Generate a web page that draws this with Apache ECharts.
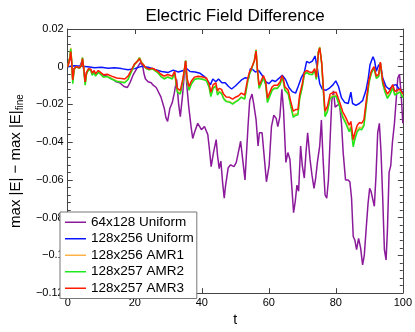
<!DOCTYPE html>
<html>
<head>
<meta charset="utf-8">
<script src="https://cdn.jsdelivr.net/npm/echarts@6/dist/echarts.min.js"></script>
<style>
  html, body { margin: 0; padding: 0; background: #fff; }
  #chart { width: 415px; height: 332px; }
</style>
</head>
<body>
<div id="chart"></div>
<script>
// series names, in legend order
var names = ['64x128 Uniform', '128x256 Uniform', '128x256 AMR1', '128x257 AMR2', '128x257 AMR3'];
var colors = ['#8b1a9b', '#0a14ff', '#ffb347', '#1ee81e', '#ff1a00'];

// 64x128 Uniform  [t, value]
var uni64 = [
  [0,0],[0.6,0.004],[0.9,0.008],[1.2,0.002],[1.5,-0.007],[1.9,-0.001],[2.5,0],[3.5,-0.0005],[4.4,0.004],[5.2,-0.008],
  [5.6,-0.003],[6.5,-0.0012],[7.5,-0.0035],[8.5,-0.004],[9.5,-0.003],[10.5,-0.005],[11.5,-0.0045],[12.5,-0.006],[13.3,-0.0065],[14.5,-0.008],
  [15.5,-0.0085],[16.8,-0.0105],[17.8,-0.011],[18.7,-0.008],[19.6,-0.004],[20.6,-0.001],[21.6,0.002],[22.3,0.001],[22.8,-0.004],[23.2,-0.0065],
  [24,-0.008],[24.9,-0.0085],[25.5,-0.0098],[26.4,-0.011],[26.8,-0.0115],[27.8,-0.016],[28.8,-0.022],[29.3,-0.027],[29.8,-0.029],[30.5,-0.022],
  [31.2,-0.019],[31.8,-0.014],[32.5,-0.0067],[33.1,-0.02],[33.6,-0.0265],[34.3,-0.0145],[35.1,0.003],[35.5,-0.009],[36.1,-0.021],[36.8,-0.0317],
  [37.3,-0.038],[37.8,-0.035],[38.8,-0.030],[39.9,-0.0334],[40.8,-0.0317],[41.8,-0.036],[42.3,-0.044],[42.8,-0.053],[43.5,-0.0455],[44.3,-0.0386],
  [44.7,-0.047],[45.2,-0.054],[45.7,-0.05],[46.2,-0.061],[46.7,-0.0697],[47.1,-0.063],[47.9,-0.0535],[48.6,-0.052],[49.6,-0.053],[50.3,-0.0507],
  [50.9,-0.0455],[51.6,-0.0395],[52.2,-0.049],[52.9,-0.060],[53.8,-0.0317],[54.3,-0.018],[55,-0.0145],[55.5,-0.0197],[56.2,-0.028],[56.8,-0.042],
  [57.2,-0.035],[58,-0.035],[58.7,-0.049],[59.3,-0.061],[60.1,-0.0524],[60.8,-0.0317],[61.5,-0.0257],[62.2,-0.0274],[62.7,-0.0317],[63.3,-0.0265],
  [63.9,-0.012],[64.4,-0.023],[65.1,-0.0507],[65.7,-0.0455],[66.3,-0.049],[66.9,-0.0645],[67.4,-0.0774],[67.9,-0.0714],[68.4,-0.0628],[68.9,-0.066],
  [69.5,-0.042],[70,-0.0524],[70.6,-0.059],[71.1,-0.0455],[71.6,-0.035],[72.3,-0.049],[72.9,-0.0576],[73.5,-0.0645],[74,-0.059],[74.5,-0.0507],
  [75.2,-0.042],[75.7,-0.0283],[76.2,-0.049],[76.8,-0.068],[77.3,-0.0697],[77.8,-0.06],[78.3,-0.0386],[78.8,-0.018],[79.3,-0.0128],[79.8,-0.0214],
  [80.4,-0.0205],[81.1,-0.0197],[81.7,-0.030],[82.2,-0.0455],[82.9,-0.060],[83.6,-0.060],[84.2,-0.061],[84.7,-0.0697],[85.2,-0.090],[85.7,-0.092],
  [86.2,-0.097],[86.8,-0.091],[87.4,-0.096],[88,-0.105],[88.5,-0.100],[89.1,-0.085],[89.6,-0.073],[90.1,-0.0645],[90.5,-0.066],[91,-0.065],
  [91.5,-0.074],[92,-0.0576],[92.5,-0.035],[93,-0.030],[93.5,-0.0455],[94,-0.0697],[94.5,-0.097],[95,-0.1024],[95.4,-0.087],[95.9,-0.056],
  [96.4,-0.0524],[96.9,-0.040],[97.5,-0.030],[98,-0.018],[98.5,-0.006],[99,-0.004],[99.5,-0.0145],[100,-0.030]
];

// 128x256 Uniform  [t, value]
var uni128 = [
  [0,0],[2,0.0005],[4,0.0003],[6,0],[8,-0.0005],[10,-0.0003],[12,-0.0008],[14,-0.0006],[16,-0.001],[18,-0.0016],
  [20,-0.001],[22,0.0002],[24,-0.0003],[26,-0.0015],[28,-0.0025],[30,-0.003],[31.5,-0.0018],[33,-0.0028],[34.5,-0.002],[35.4,-0.0008],
  [36.5,-0.0025],[38,-0.0028],[39.5,-0.0035],[41,-0.0055],[42,-0.008],[42.6,-0.0095],[43.3,-0.0065],[44.2,-0.008],[45,-0.0065],[46,-0.0085],
  [47,-0.0085],[48,-0.0105],[48.9,-0.0118],[50,-0.0102],[51,-0.0085],[52,-0.0068],[53,-0.0058],[54,-0.0062],[54.5,-0.001],[55.2,-0.0015],
  [56,-0.0028],[57,-0.002],[58,-0.0045],[59,-0.0078],[60,-0.009],[61,-0.0072],[62,-0.0078],[63,-0.0062],[64,-0.0045],[65,-0.0068],
  [66,-0.011],[67,-0.0132],[68,-0.014],[68.7,-0.0108],[69.7,-0.0058],[70.6,-0.003],[71.3,0.0028],[72.1,0.002],[73,0.003],[73.8,0.0057],
  [74.5,-0.001],[75.2,-0.009],[76,-0.012],[77,-0.0125],[78,-0.0115],[79.2,-0.0095],[80,-0.0075],[80.8,-0.0105],[81.7,-0.0165],[82.7,-0.019],
  [83.7,-0.0195],[84.5,-0.0135],[85,-0.0195],[86,-0.0205],[87,-0.0195],[88,-0.018],[89,-0.0125],[89.7,-0.006],[90.2,0.001],[91.1,0.0053],
  [91.6,0.003],[92.1,-0.0024],[92.7,0.0005],[93.3,0.0019],[94,-0.006],[95,-0.0105],[96,-0.012],[97,-0.010],[98,-0.0095],[99,-0.012],
  [100,-0.0135]
];

// AMR runs share one time axis
var tAmr = [
  0, 0.6, 0.9, 1.2, 1.5, 1.9, 2.5, 3.5, 4.1, 4.4,
  4.8, 5.2, 5.6, 6.2, 6.9, 7.3, 7.9, 8.3, 9.1, 9.8,
  10.7, 11.8, 13.1, 14.6, 16, 17, 18, 18.9, 19.9, 20.9,
  21.4, 22, 22.6, 23.3, 24.3, 25.3, 26.9, 27.8, 28.8, 29.8,
  31.2, 31.9, 32.7, 33.6, 34.4, 35.2, 35.6, 36.2, 36.9, 37.8,
  38.9, 40.4, 41.4, 42.2, 42.7, 43.4, 44.2, 44.7, 45.2, 45.9,
  46.5, 47.3, 48.3, 49.2, 50, 50.9, 51.8, 52.8, 53.7, 54.2,
  54.7, 55.2, 55.7, 56.2, 56.6, 57.1, 57.6, 58.4, 59.1, 59.6,
  60.2, 61, 61.7, 62.6, 63.4, 63.9, 64.3, 64.8, 65.8, 66.5,
  67.3, 68, 68.7, 69.2, 70, 70.6, 71.3, 72.1, 73, 73.7,
  74.2, 74.8, 75.2, 75.8, 76.3, 76.8, 77.5, 78.3, 79.2, 80.1,
  81.1, 82.1, 83, 84, 84.5, 85.2, 85.7, 86.4, 87.1, 87.7,
  88.4, 89.2, 89.9, 90.6, 91.4, 92.1, 92.8, 93.3, 94, 94.7,
  95.4, 96.2, 97, 97.6, 98.4, 99.2, 100
];

var amr1 = [
  0, 0.005, 0.010, 0.003, -0.0085, -0.0015, 0, -0.0008, 0.0008, 0.005,
  -0.0015, -0.0095, -0.004, -0.0015, -0.002, -0.004, -0.0025, -0.0045, -0.003, -0.004,
  -0.0055, -0.005, -0.0062, -0.0075, -0.008, -0.0082, -0.0065, -0.003, 0.0012, 0.0035,
  0.005, 0.0025, 0.001, -0.0008, -0.0015, -0.0012, -0.003, -0.005, -0.0062, -0.0052,
  -0.0062, -0.003, -0.013, -0.014, -0.007, 0.0035, -0.007, -0.012, -0.009, -0.0065,
  -0.006, -0.0065, -0.007, -0.0105, -0.0152, -0.011, -0.0098, -0.0145, -0.013, -0.0138,
  -0.0165, -0.0182, -0.0185, -0.0195, -0.0185, -0.0175, -0.016, -0.017, -0.0078, -0.004,
  -0.002, -0.0028, 0.0035, 0.0092, -0.0015, -0.0112, -0.0092, -0.0058, -0.0095, -0.0185,
  -0.0158, -0.0122, -0.0112, -0.0112, -0.0092, -0.0058, -0.0072, -0.0122, -0.014, -0.02,
  -0.026, -0.025, -0.0248, -0.0168, -0.0105, -0.004, -0.003, -0.0038, -0.004, -0.0018,
  -0.0065, 0.008, 0.0105, 0.0015, -0.013, -0.026, -0.0232, -0.0162, -0.0152, -0.015,
  -0.0205, -0.0262, -0.0295, -0.0335, -0.0315, -0.041, -0.0375, -0.0335, -0.032, -0.0325,
  -0.0305, -0.0185, -0.0082, -0.0032, -0.0005, -0.006, -0.005, 0.002, -0.0088, -0.013,
  -0.0162, -0.014, -0.0108, -0.0145, -0.0138, -0.013, -0.016
];

var amr2 = [
  0, 0.0045, 0.0095, 0.0025, -0.009, -0.0015, 0, -0.0008, 0.0008, 0.0048,
  -0.0015, -0.0098, -0.004, -0.0015, -0.002, -0.0045, -0.003, -0.005, -0.003, -0.004,
  -0.0055, -0.0052, -0.0065, -0.0078, -0.0082, -0.0085, -0.0068, -0.003, 0.001, 0.0032,
  0.0047, 0.0022, 0.001, -0.0008, -0.0016, -0.0012, -0.0032, -0.0052, -0.0065, -0.0055,
  -0.0065, -0.0032, -0.0135, -0.0145, -0.0072, 0.0033, -0.0072, -0.0125, -0.0092, -0.0068,
  -0.0062, -0.0068, -0.0075, -0.011, -0.0158, -0.0115, -0.0102, -0.015, -0.0135, -0.0142,
  -0.017, -0.0185, -0.0188, -0.0198, -0.0188, -0.0178, -0.0162, -0.0172, -0.008, -0.0042,
  -0.002, -0.003, 0.0032, 0.0088, -0.0015, -0.0115, -0.0095, -0.006, -0.0098, -0.019,
  -0.0162, -0.0125, -0.0115, -0.0115, -0.0095, -0.006, -0.0075, -0.0125, -0.0145, -0.0205,
  -0.0268, -0.0258, -0.0255, -0.0172, -0.0108, -0.0042, -0.003, -0.004, -0.0042, -0.002,
  -0.0068, 0.0078, 0.0102, 0.0015, -0.0135, -0.0265, -0.0238, -0.0168, -0.0158, -0.0156,
  -0.021, -0.027, -0.0302, -0.0345, -0.0322, -0.0425, -0.0385, -0.0345, -0.033, -0.0335,
  -0.0312, -0.019, -0.0085, -0.0035, -0.0008, -0.0062, -0.0052, 0.0018, -0.009, -0.0135,
  -0.0168, -0.0145, -0.0112, -0.015, -0.0142, -0.0135, -0.0165
];

var amr3 = [
  0, 0.004, 0.008, 0.002, -0.007, -0.001, 0, -0.0005, 0.0005, 0.0043,
  -0.001, -0.008, -0.003, -0.001, -0.0013, -0.0033, -0.002, -0.0038, -0.002, -0.003,
  -0.0043, -0.004, -0.005, -0.006, -0.0062, -0.0065, -0.005, -0.002, 0.0014, 0.003,
  0.0043, 0.002, 0.001, -0.0005, -0.0012, -0.0008, -0.0024, -0.004, -0.005, -0.0041,
  -0.005, -0.0024, -0.0115, -0.0125, -0.006, 0.003, -0.006, -0.0105, -0.0076, -0.0055,
  -0.005, -0.0055, -0.006, -0.009, -0.0135, -0.0095, -0.0085, -0.0128, -0.0115, -0.012,
  -0.0145, -0.016, -0.0162, -0.0172, -0.0162, -0.0155, -0.014, -0.015, -0.0064, -0.003,
  -0.0012, -0.002, 0.003, 0.0083, -0.0012, -0.0098, -0.008, -0.0047, -0.008, -0.0167,
  -0.014, -0.0107, -0.0098, -0.0098, -0.008, -0.0047, -0.006, -0.0107, -0.0124, -0.018,
  -0.0236, -0.0227, -0.0227, -0.015, -0.009, -0.003, -0.002, -0.0028, -0.003, -0.001,
  -0.0055, 0.0074, 0.010, 0.002, -0.0115, -0.0236, -0.021, -0.0145, -0.0136, -0.0135,
  -0.0185, -0.024, -0.027, -0.031, -0.029, -0.0386, -0.035, -0.031, -0.0295, -0.030,
  -0.028, -0.0165, -0.007, -0.0024, 0, -0.005, -0.004, 0.0025, -0.0076, -0.0115,
  -0.0145, -0.0125, -0.0095, -0.013, -0.0124, -0.0118, -0.0145
];

function zipT(vals) {
  return tAmr.map(function (t, i) { return [t, vals[i]]; });
}

var font = 'Liberation Sans, Arial, Helvetica, sans-serif';
var frame = '#444';

function yLabel(v) {
  if (Math.abs(v) < 1e-9) return '0';
  return String(+v.toFixed(2)).replace('-', '\u2212');
}

var myChart = echarts.init(document.getElementById('chart'), null, { renderer: 'canvas' });

var allData = [uni64, uni128, zipT(amr1), zipT(amr2), zipT(amr3)];

var option = {
  animation: false,
  backgroundColor: '#fff',
  title: {
    text: 'Electric Field Difference',
    left: 230,
    top: 3,
    textAlign: 'center',
    textStyle: { fontFamily: font, fontSize: 17, fontWeight: 'normal', color: '#000' }
  },
  legend: {
    orient: 'vertical',
    left: 60,
    top: 212,
    data: names,
    icon: 'rect',
    itemWidth: 21,
    itemHeight: 1.5,
    itemGap: 2,
    padding: [3, 3, 3, 5],
    borderColor: '#777',
    borderWidth: 1,
    backgroundColor: '#fff',
    textStyle: { fontFamily: font, fontSize: 13.5, color: '#000', lineHeight: 14.5 }
  },
  grid: { left: 58, right: 12, top: 29, bottom: 32, containLabel: false },
  xAxis: [{
    type: 'value',
    min: 0, max: 100, interval: 20,
    name: 't',
    nameLocation: 'middle',
    nameGap: 17,
    nameTextStyle: { fontFamily: font, fontSize: 14, color: '#000' },
    axisLine: { onZero: false, lineStyle: { color: frame, width: 1 } },
    axisTick: { inside: true, length: 5, lineStyle: { color: frame } },
    axisLabel: { fontFamily: font, fontSize: 11, color: '#000', margin: 4 },
    splitLine: { show: false }
  }, {
    type: 'value',
    position: 'top',
    min: 0, max: 100, interval: 20,
    axisLine: { onZero: false, lineStyle: { color: frame, width: 1 } },
    axisTick: { inside: true, length: 5, lineStyle: { color: frame } },
    axisLabel: { show: false },
    splitLine: { show: false }
  }],
  yAxis: [{
    type: 'value',
    min: -0.12, max: 0.02, interval: 0.02,
    name: '{a|max |E| \u2212 max |E|}{b|fine}',
    nameLocation: 'middle',
    nameRotate: 90,
    nameGap: 37,
    nameTextStyle: {
      fontFamily: font, fontSize: 15, color: '#000',
      rich: {
        a: { fontFamily: font, fontSize: 15, color: '#000' },
        b: { fontFamily: font, fontSize: 10, color: '#000', padding: [9, 0, 0, 0] }
      }
    },
    axisLine: { show: true, onZero: false, lineStyle: { color: frame, width: 1 } },
    axisTick: { inside: true, length: 5, lineStyle: { color: frame } },
    minorTick: { show: true, splitNumber: 5, length: 3, lineStyle: { color: frame } },
    axisLabel: { fontFamily: font, fontSize: 11, color: '#000', margin: 4, formatter: yLabel },
    splitLine: { show: false }
  }, {
    type: 'value',
    position: 'right',
    min: -0.12, max: 0.02, interval: 0.02,
    axisLine: { show: true, onZero: false, lineStyle: { color: frame, width: 1 } },
    axisTick: { inside: true, length: 5, lineStyle: { color: frame } },
    minorTick: { show: true, splitNumber: 5, length: 3, lineStyle: { color: frame } },
    axisLabel: { show: false },
    splitLine: { show: false }
  }],
  series: names.map(function (n, i) {
    return {
      name: n,
      type: 'line',
      xAxisIndex: 0,
      yAxisIndex: 0,
      data: allData[i],
      symbol: 'none',
      smooth: false,
      color: colors[i],
      lineStyle: { color: colors[i], width: 1.5 }
    };
  })
};

myChart.setOption(option);
</script>
</body>
</html>
